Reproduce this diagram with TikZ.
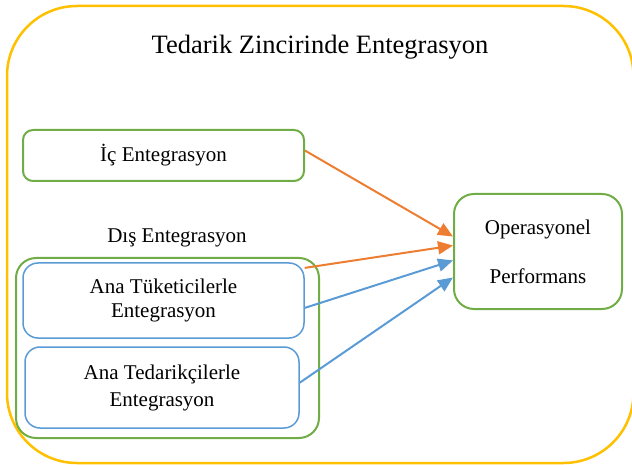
\documentclass[tikz,border=0pt]{standalone}
\usepackage{fontspec}
\setmainfont{Liberation Serif}
\usetikzlibrary{arrows.meta}
\definecolor{sari}{HTML}{FFC000}
\definecolor{yesil}{HTML}{70AD47}
\definecolor{mavi}{HTML}{5B9BD5}
\definecolor{turuncu}{HTML}{ED7D31}

\begin{document}
\begin{tikzpicture}[x=1pt, y=-1pt,
    yazi/.style={font=\fontsize{21}{25}\selectfont, align=center, inner sep=0pt},
    ykutu/.style={yazi, draw=yesil, line width=2pt},
    mkutu/.style={yazi, draw=mavi, line width=1.5pt, rounded corners=15pt},
    ok/.style={line width=2pt, -{Triangle[length=15pt, width=13pt]}}]
    \useasboundingbox (0,0) rectangle (632,465);
    \clip (0,0) rectangle (632,465);
    \draw[sari, line width=2.5pt, rounded corners=70pt] (7,6) rectangle (633.5,463);
    \node (T) at (320,47) {\fontsize{26.5}{30}\selectfont Tedarik Zincirinde Entegrasyon};
    \node[ykutu, rounded corners=10pt, minimum width=281pt, minimum height=51pt] (A) at (163.5,155.5) {İç Entegrasyon};
    \node[yazi] (D) at (177,238) {Dış Entegrasyon};
    \node[ykutu, rounded corners=20pt, minimum width=303pt, minimum height=180pt] (G) at (167.5,348) {};
    \node[mkutu, minimum width=281pt, minimum height=75pt] (B) at (163.5,300.5) {Ana Tüketicilerle\\[-1pt]Entegrasyon};
    \node[mkutu, minimum width=274pt, minimum height=81pt] (C) at (162,387.5) {Ana Tedarikçilerle\\[2pt]Entegrasyon};
    \node[ykutu, rounded corners=20pt, minimum width=168pt, minimum height=115pt] (F) at (538,251.5) {Operasyonel\\[24pt]Performans};
    \draw[ok, turuncu] (A.2) -- (F.170);
    \draw[ok, turuncu] (B.13) -- (F.176);
    \draw[ok, mavi] (B.-3) -- (F.186);
    \draw[ok, mavi] (C.2) -- (F.197);
\end{tikzpicture}
\end{document}
